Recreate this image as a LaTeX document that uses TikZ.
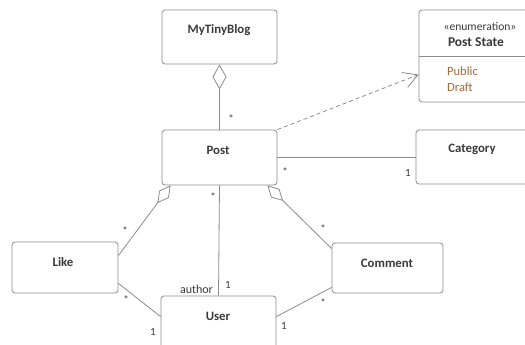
\documentclass[tikz,border=0pt]{standalone}
\usepackage{fontspec}
\setmainfont{Carlito}
\usetikzlibrary{arrows.meta}
\definecolor{edgec}{HTML}{8C8C8C}
\definecolor{txtc}{HTML}{3A3A3A}
\definecolor{litc}{HTML}{A8683A}
\begin{document}
\begin{tikzpicture}[x=1pt,y=-1pt,
  box/.style={draw=edgec, line width=0.8pt, rounded corners=3pt, inner sep=0pt},
  title/.style={font=\fontsize{12.8}{15}\selectfont\bfseries, text=txtc, inner sep=0pt},
  plain/.style={font=\fontsize{12}{14}\selectfont, text=txtc, inner sep=0pt},
  lit/.style={font=\fontsize{12.5}{14}\selectfont, text=litc, inner sep=0pt, anchor=west},
  mult/.style={font=\fontsize{11}{13}\selectfont, text=txtc, inner sep=0pt},
  assoc/.style={draw=edgec, line width=0.8pt},
  agg/.style={assoc, {Diamond[open,length=25pt,width=14pt]}-},
  aggs/.style={assoc, {Diamond[open,length=22pt,width=12pt]}-}
]
\useasboundingbox (0,0) rectangle (525,345);
\clip (0,0) rectangle (525,345);
\fill[white] (0,0) rectangle (525,345);

% boxes
\node[box, minimum width=115pt, minimum height=54pt] (blog) at (219.5,37) {};
\node[box, minimum width=115pt, minimum height=55pt] (post) at (219.5,157.5) {};
\node[box, minimum width=116pt, minimum height=92pt] (enum) at (477,56) {};
\node[box, minimum width=116pt, minimum height=54pt] (cat) at (474,157) {};
\node[box, minimum width=106pt, minimum height=51pt] (like) at (65,267.5) {};
\node[box, minimum width=111pt, minimum height=50pt] (comment) at (387.5,268) {};
\node[box, minimum width=115pt, minimum height=54pt] (user) at (218.5,323) {};

% titles
\node[title] (blogt) at (219,30) {MyTinyBlog};
\node[title] (postt) at (218,150) {Post};
\node[title] (catt) at (472,149) {Category};
\node[title] (liket) at (63,262) {Like};
\node[title] (commentt) at (387,263) {Comment};
\node[title] (usert) at (218,316) {User};
\node[plain, font=\fontsize{11.6}{14}\selectfont] (enumst) at (480,27) {«enumeration»};
\node[title, font=\fontsize{13.5}{15}\selectfont\bfseries] (enumt) at (476,42) {Post State};
\draw[assoc] ([yshift=-47pt]enum.north west) -- ([yshift=-47pt]enum.north east);
\node[lit] (pub) at (447,71) {Public};
\node[lit] (draft) at (447,87) {Draft};

% connectors
\draw[agg] (blog.south) -- (post.north);
\draw[aggs] ([xshift=9pt]post.south west) -- ([yshift=-14pt]like.north east);
\draw[aggs] ([xshift=-10pt]post.south east) -- ([yshift=-6pt]comment.north west);
\draw[assoc] (post.south) -- (user.north);
\draw[assoc] (post.east) -- (post.east -| cat.west);
\draw[assoc] ([yshift=10pt]like.south east) -- ([yshift=-21pt]user.north west);
\draw[assoc] ([yshift=6pt]comment.south west) -- ([yshift=-21pt]user.north east);
\draw[assoc, dash pattern=on 4pt off 3pt, -{Straight Barb[length=14pt,width=16pt]}] (post.north east) -- ([yshift=-65pt]enum.north west);

% multiplicities
\node[mult] (m1) at (231,119) {*};
\node[mult] (m2) at (285,172) {*};
\node[mult] (m3) at (213,197) {*};
\node[mult] (m4) at (125,231) {*};
\node[mult] (m5) at (126,300) {*};
\node[mult] (m6) at (323,229) {*};
\node[mult] (m7) at (323,303) {*};
\node[mult] (o1) at (408,173) {1};
\node[mult] (o2) at (228,285) {1};
\node[mult] (o3) at (153,332) {1};
\node[mult] (o4) at (284,326) {1};
\node[plain] (author) at (196.5,289) {author};
\end{tikzpicture}
\end{document}
